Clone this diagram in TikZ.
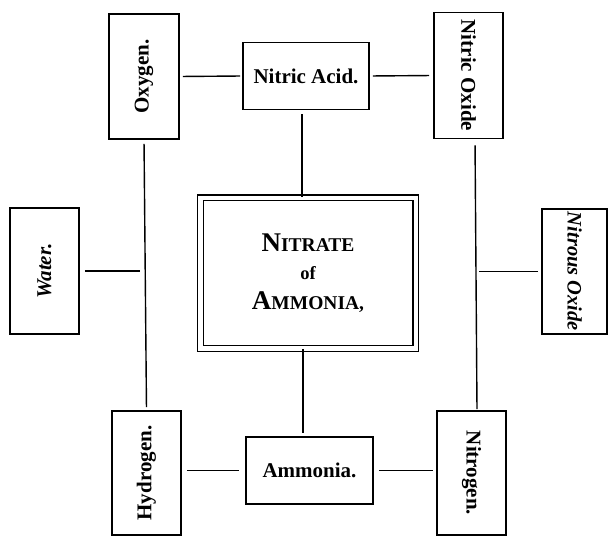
\documentclass[tikz,border=0pt]{standalone}
\usepackage{fontspec}
\setmainfont{Liberation Serif}
\begin{document}
\begin{tikzpicture}[x=1pt,y=-1pt,
  box/.style={draw, line width=1.6pt, rectangle, inner sep=0pt,
    font=\fontsize{21}{24}\selectfont\bfseries},
  conn/.style={line width=1.4pt},
  upright/.style={rotate=90},
  downright/.style={rotate=-90}]
\useasboundingbox (0,0) rectangle (609,537);
% nodes
\node[box, minimum width=70pt, minimum height=125pt] (oxy) at (144,76.5) {};
\node[upright, font=\fontsize{21}{24}\selectfont\bfseries] (oxyt) at (oxy.center) {Oxygen.};
\node[box, minimum width=126pt, minimum height=67pt] (nacid) at (306,76) {Nitric Acid.};
\node[box, minimum width=69pt, minimum height=126pt] (noxide) at (468.5,75.5) {};
\node[downright, font=\fontsize{21}{24}\selectfont\bfseries] (noxidet) at (noxide.center) {Nitric Oxide};
\node[box, minimum width=69pt, minimum height=126pt] (water) at (44.5,271) {};
\node[upright, font=\fontsize{21}{24}\selectfont\bfseries\itshape] (watert) at (water.center) {Water.};
\node[draw, line width=1.4pt, double, double distance=4.5pt, rectangle, inner sep=0pt,
  minimum width=215.5pt, minimum height=150.5pt, align=center,
  font=\fontsize{19.5}{29}\selectfont\bfseries] (nitam) at (308,273)
  {{\fontsize{27}{29}\selectfont N}ITRATE\\[-1pt]{\fontsize{18.5}{29}\selectfont of}\\[1pt]{\fontsize{27}{29}\selectfont A}MMONIA,};
\node[box, minimum width=65pt, minimum height=125pt] (nitrous) at (574.5,271.5) {};
\node[downright, font=\fontsize{20.5}{24}\selectfont\bfseries\itshape] (nitroust) at (nitrous.center) {Nitrous Oxide};
\node[box, minimum width=69pt, minimum height=124pt] (hyd) at (146.5,473) {};
\node[upright, font=\fontsize{21}{24}\selectfont\bfseries] (hydt) at (hyd.center) {Hydrogen.};
\node[box, minimum width=127pt, minimum height=67pt] (amm) at (309.5,470.5) {Ammonia.};
\node[box, minimum width=69pt, minimum height=124pt] (nitro) at (471.5,473) {};
\node[downright, font=\fontsize{21}{24}\selectfont\bfseries] (nitrot) at (nitro.center) {Nitrogen.};
% helper coordinates
\coordinate (rvtop) at ([xshift=6.5pt]noxide.south);
\coordinate (rvbot) at ([xshift=5.5pt]nitro.north);
\coordinate (cdown) at ([xshift=-5pt]nitam.south);
\coordinate (cup) at ([xshift=-4pt]nacid.south);
% connectors
\draw[conn, shorten <=3pt, shorten >=2pt] (oxy.east) -- (nacid.west);
\draw[conn, shorten <=3pt, shorten >=4pt] (nacid.east) -- (noxide.west);
\draw[conn, shorten <=4pt, shorten >=3pt] (oxy.south) -- (hyd.north);
\draw[conn, shorten <=6pt, shorten >=1pt] (rvtop) -- (rvbot);
\draw[conn, shorten <=4pt] (cup) -- (cup |- nitam.north);
\draw[conn, shorten >=3pt] (cdown) -- (cdown |- amm.north);
\draw[conn, shorten <=5pt, shorten >=4pt] (water.east) -- (water.east -| oxy.south);
\draw[conn, shorten <=3pt, shorten >=4pt] (nitrous.west) -- (nitrous.west -| rvtop);
\draw[conn, shorten <=5pt, shorten >=6pt] (hyd.east |- amm.west) -- (amm.west);
\draw[conn, shorten <=5pt, shorten >=3pt] (amm.east) -- (amm.east -| nitro.west);
\end{tikzpicture}
\end{document}
